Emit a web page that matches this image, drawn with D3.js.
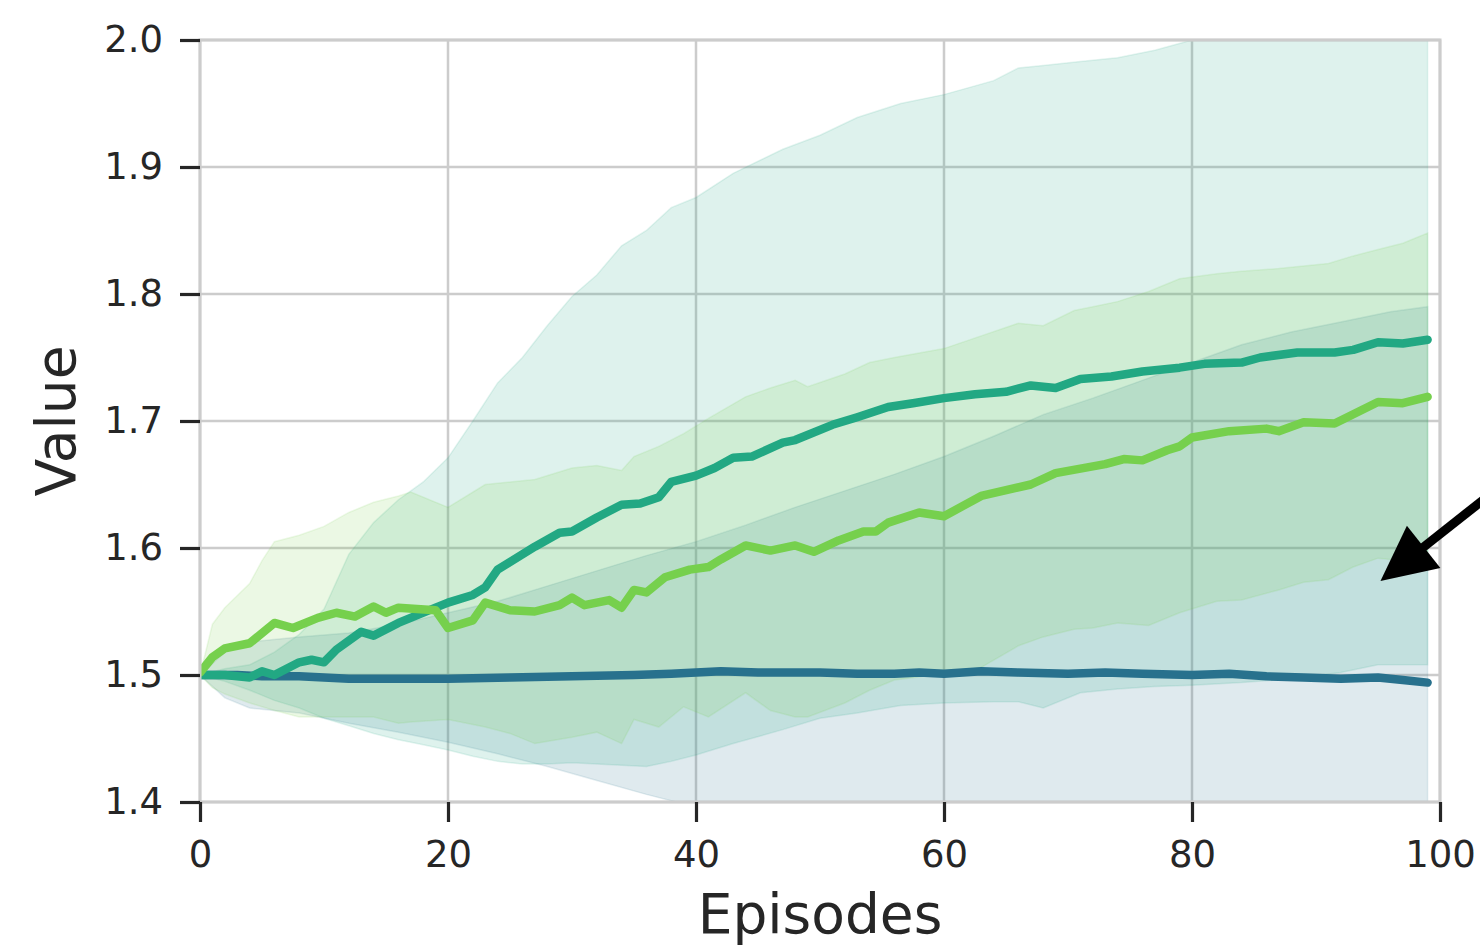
<!DOCTYPE html>
<html lang="en">
	<head>
		<meta charset="utf-8">
		<title>Value over Episodes</title>
		<script src="https://cdn.jsdelivr.net/npm/d3@7"></script>
		<style type="text/css">
			body {
				margin: 0;
				background-color: #ffffff;
			}
			.tick text {
				font-family: "DejaVu Sans", sans-serif;
				fill: #262626;
			}
		</style>
	</head>
	<body>
<script type="text/javascript">
//Data: [episode, value]
var blueMean = [[0,1.5],[3,1.5],[5,1.499],[8,1.499],[10,1.498],[12,1.497],[15,1.497],[20,1.497],[25,1.498],[30,1.499],[35,1.5],[38,1.501],[40,1.502],[42,1.503],[45,1.502],[48,1.502],[50,1.502],[53,1.501],[56,1.501],[58,1.502],[60,1.501],[63,1.503],[66,1.502],[70,1.501],[73,1.502],[76,1.501],[80,1.5],[83,1.501],[86,1.499],[89,1.498],[92,1.497],[95,1.498],[97,1.496],[99,1.494]];

var tealMean = [[0,1.5],[2,1.5],[4,1.498],[5,1.503],[6,1.5],[8,1.51],[9,1.512],[10,1.51],[11,1.52],[13,1.534],[14,1.531],[16,1.541],[19,1.553],[20,1.557],[22,1.563],[23,1.569],[24,1.583],[27,1.601],[29,1.612],[30,1.613],[32,1.624],[34,1.634],[35.5,1.635],[37,1.64],[38,1.652],[40,1.657],[41.5,1.663],[43,1.671],[44.5,1.672],[47,1.683],[48,1.685],[51,1.697],[53,1.703],[55.5,1.711],[57.5,1.714],[60,1.718],[62.5,1.721],[65,1.723],[67,1.728],[69,1.726],[71,1.733],[73.5,1.735],[76,1.739],[79,1.742],[81,1.745],[84,1.746],[85.5,1.75],[88.5,1.754],[91.5,1.754],[93,1.756],[95,1.762],[97,1.761],[99,1.764]];

var greenMean = [[0,1.502],[1,1.514],[2,1.521],[4,1.525],[6,1.541],[7.5,1.537],[9.5,1.545],[11,1.549],[12.5,1.546],[14,1.554],[15,1.549],[16,1.553],[19,1.551],[20,1.537],[22,1.543],[23,1.557],[25,1.551],[27,1.55],[29,1.555],[30,1.561],[31,1.555],[33,1.559],[34,1.553],[35,1.567],[36,1.565],[37.5,1.577],[39.5,1.583],[41,1.585],[42,1.591],[44,1.602],[46,1.598],[48,1.602],[49.5,1.597],[51.5,1.606],[53.5,1.613],[54.5,1.613],[55.5,1.62],[58,1.628],[60,1.625],[63,1.641],[67,1.65],[69,1.659],[73,1.666],[74.5,1.67],[76,1.669],[78,1.677],[79,1.68],[80,1.687],[83,1.692],[86,1.694],[87,1.692],[89,1.699],[91.5,1.698],[95,1.715],[97,1.714],[99,1.719]];

//Bands: [episode, lower, upper]
var blueBand = [[0,1.5,1.5],[2,1.482,1.518],[4,1.474,1.526],[8,1.47,1.53],[12,1.462,1.533],[16,1.455,1.54],[20,1.447,1.549],[24,1.438,1.558],[28,1.428,1.57],[32,1.417,1.582],[36,1.406,1.594],[40,1.396,1.605],[44,1.385,1.618],[48,1.372,1.632],[52,1.358,1.645],[56,1.344,1.658],[60,1.33,1.672],[64,1.316,1.688],[68,1.298,1.705],[72,1.285,1.718],[76,1.27,1.732],[80,1.255,1.746],[84,1.24,1.76],[88,1.228,1.77],[92,1.218,1.778],[96,1.21,1.786],[99,1.2,1.79]];

var tealBand = [[0,1.5,1.5],[2,1.495,1.505],[4,1.488,1.508],[6,1.48,1.518],[8,1.474,1.532],[10,1.466,1.552],[12,1.46,1.595],[14,1.454,1.62],[16,1.449,1.638],[18,1.445,1.652],[20,1.441,1.671],[22,1.436,1.7],[24,1.432,1.73],[26,1.43,1.75],[28,1.43,1.775],[30,1.431,1.798],[32,1.43,1.815],[34,1.429,1.838],[36,1.428,1.85],[38,1.432,1.868],[40,1.437,1.876],[43,1.446,1.895],[47,1.457,1.914],[50,1.466,1.925],[53,1.47,1.939],[56.5,1.476,1.95],[60,1.478,1.957],[64,1.479,1.968],[66,1.479,1.978],[68,1.474,1.98],[71,1.486,1.983],[74,1.489,1.986],[77,1.491,1.992],[80,1.492,2.0],[84,1.494,2.005],[88,1.497,2.01],[92,1.502,2.013],[95,1.508,2.018],[99,1.508,2.02]];

var greenBand = [[0,1.5,1.5],[1,1.49,1.54],[2,1.485,1.553],[4,1.478,1.572],[5,1.475,1.59],[6,1.472,1.605],[8,1.467,1.61],[10,1.467,1.617],[12,1.467,1.628],[14,1.467,1.636],[16,1.462,1.641],[17,1.463,1.644],[20,1.465,1.632],[23,1.459,1.65],[25,1.454,1.652],[27,1.446,1.654],[30,1.451,1.663],[32,1.455,1.665],[34,1.446,1.661],[35,1.465,1.672],[37,1.459,1.68],[39,1.475,1.69],[41,1.467,1.702],[44,1.486,1.719],[46,1.472,1.726],[48,1.467,1.732],[49,1.467,1.727],[52,1.478,1.737],[54,1.488,1.746],[56,1.496,1.75],[60,1.501,1.757],[63,1.506,1.767],[66,1.523,1.777],[68,1.53,1.775],[70.5,1.536,1.787],[72,1.537,1.79],[74,1.541,1.794],[76.5,1.539,1.802],[79,1.549,1.812],[82,1.558,1.816],[84,1.559,1.818],[87,1.567,1.82],[89,1.573,1.822],[91,1.575,1.824],[93,1.585,1.83],[95,1.592,1.835],[97,1.59,1.84],[99,1.591,1.848]];

var xTicks = [0, 20, 40, 60, 80, 100];
var yTicks = [1.4, 1.5, 1.6, 1.7, 1.8, 1.9, 2.0];
var xLabel = "Episodes";
var yLabel = "Value";

//arrow annotation, tail and tip in data units
var arrowTail = [103.5, 1.638];
var arrowTip = [95.2, 1.574];

//Width and height
var w = 1480;
var h = 947;
var margin = {top: 40, right: 40, bottom: 145, left: 200};

var blueColor = "#28718d";
var tealColor = "#22a883";
var greenColor = "#76d04d";

var svg = d3.select("body")
			.append("svg")
			.attr("width", w)
			.attr("height", h);

var x = d3.scaleLinear().domain([0, 100]).range([margin.left, w - margin.right]);
var y = d3.scaleLinear().domain([1.4, 2.0]).range([h - margin.bottom, margin.top]);

svg.append("clipPath")
	.attr("id", "plotclip")
	.append("rect")
	.attr("x", x(0))
	.attr("y", y(2.0))
	.attr("width", x(100) - x(0))
	.attr("height", y(1.4) - y(2.0));

//grid lines
svg.append("g")
	.selectAll("line.gx")
	.data(xTicks)
	.enter()
	.append("line")
	.attr("x1", function(d){ return x(d); })
	.attr("x2", function(d){ return x(d); })
	.attr("y1", y(1.4))
	.attr("y2", y(2.0))
	.attr("stroke", "#cccccc")
	.attr("stroke-width", 2.5);

svg.append("g")
	.selectAll("line.gy")
	.data(yTicks)
	.enter()
	.append("line")
	.attr("x1", x(0))
	.attr("x2", x(100))
	.attr("y1", function(d){ return y(d); })
	.attr("y2", function(d){ return y(d); })
	.attr("stroke", "#cccccc")
	.attr("stroke-width", 2.5);

var plot = svg.append("g").attr("clip-path", "url(#plotclip)");

var area = d3.area()
	.x(function(d){ return x(d[0]); })
	.y0(function(d){ return y(d[1]); })
	.y1(function(d){ return y(d[2]); });

var line = d3.line()
	.x(function(d){ return x(d[0]); })
	.y(function(d){ return y(d[1]); });

//Bands
var bands = [[blueBand, blueColor], [tealBand, tealColor], [greenBand, greenColor]];
bands.forEach(function(b){
	plot.append("path")
		.datum(b[0])
		.attr("d", area)
		.attr("fill", b[1])
		.attr("fill-opacity", 0.15)
		.attr("stroke", b[1])
		.attr("stroke-opacity", 0.12)
		.attr("stroke-width", 1.5);
});

//Mean lines
var lines = [[blueMean, blueColor], [tealMean, tealColor], [greenMean, greenColor]];
lines.forEach(function(l){
	plot.append("path")
		.datum(l[0])
		.attr("d", line)
		.attr("fill", "none")
		.attr("stroke", l[1])
		.attr("stroke-width", 8.5)
		.attr("stroke-linejoin", "round")
		.attr("stroke-linecap", "round");
});

//Frame
svg.append("rect")
	.attr("x", x(0))
	.attr("y", y(2.0))
	.attr("width", x(100) - x(0))
	.attr("height", y(1.4) - y(2.0))
	.attr("fill", "none")
	.attr("stroke", "#cccccc")
	.attr("stroke-width", 3);

//Axes
var xAxis = d3.axisBottom(x).tickValues(xTicks).tickSize(20).tickPadding(19).tickFormat(d3.format("d"));
var yAxis = d3.axisLeft(y).tickValues(yTicks).tickSize(20).tickPadding(17).tickFormat(d3.format(".1f"));

var gx = svg.append("g")
	.attr("transform", "translate(0," + y(1.4) + ")")
	.call(xAxis);
var gy = svg.append("g")
	.attr("transform", "translate(" + x(0) + ",0)")
	.call(yAxis);

[gx, gy].forEach(function(g){
	g.select(".domain").remove();
	g.selectAll(".tick line").attr("stroke", "#262626").attr("stroke-width", 3.2);
	g.selectAll(".tick text").attr("font-size", "37px");
});

svg.append("text")
	.attr("x", (x(0) + x(100)) / 2)
	.attr("y", 933)
	.attr("text-anchor", "middle")
	.attr("font-family", "DejaVu Sans, sans-serif")
	.attr("font-size", "55px")
	.attr("fill", "#262626")
	.text(xLabel);

svg.append("text")
	.attr("transform", "translate(75," + ((y(1.4) + y(2.0)) / 2) + ") rotate(-90)")
	.attr("text-anchor", "middle")
	.attr("font-family", "DejaVu Sans, sans-serif")
	.attr("font-size", "55px")
	.attr("fill", "#262626")
	.text(yLabel);

//Arrow
var tx = x(arrowTip[0]), ty = y(arrowTip[1]);
var sx = x(arrowTail[0]), sy = y(arrowTail[1]);
var ang = Math.atan2(ty - sy, tx - sx);
var headLen = 55, headHalf = 27;
var bx = tx - headLen * Math.cos(ang), by = ty - headLen * Math.sin(ang);

svg.append("line")
	.attr("x1", sx)
	.attr("y1", sy)
	.attr("x2", bx + 2 * Math.cos(ang))
	.attr("y2", by + 2 * Math.sin(ang))
	.attr("stroke", "#000000")
	.attr("stroke-width", 9);

svg.append("polygon")
	.attr("points", [
		[tx, ty],
		[bx + headHalf * Math.sin(ang), by - headHalf * Math.cos(ang)],
		[bx - headHalf * Math.sin(ang), by + headHalf * Math.cos(ang)]
	].map(function(p){ return p.join(","); }).join(" "))
	.attr("fill", "#000000");
</script>
	</body>
</html>
